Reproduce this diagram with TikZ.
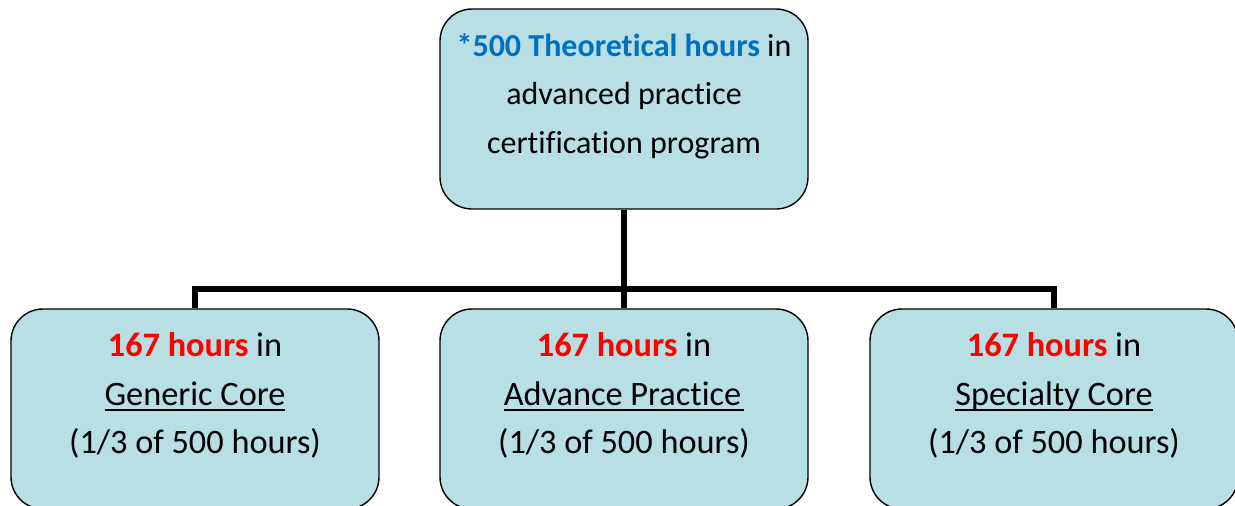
\documentclass[tikz,border=0pt]{standalone}
\usepackage{fontspec}
\setmainfont{Carlito}[Ligatures=NoCommon]
\definecolor{boxfill}{HTML}{B8DFE3}
\definecolor{hblue}{HTML}{0070C0}
\definecolor{hred}{HTML}{FF0000}
\newcommand{\ulword}[1]{\setbox0\hbox{#1}\rlap{\rule[-6pt]{\wd0}{2pt}}\box0}
\tikzset{
  hbox/.style={draw=black, line width=1.4pt, fill=boxfill, rounded corners=32pt,
    minimum width=368pt, minimum height=200pt, inner sep=0pt},
  htext/.style={anchor=north, inner sep=0pt, align=center,
    font=\fontsize{34.3}{48.5}\selectfont},
  toptext/.style={htext, font=\fontsize{32}{48.5}\selectfont},
  link/.style={line width=6pt, draw=black}
}
\begin{document}
\begin{tikzpicture}[x=1pt,y=-1pt]
\useasboundingbox (0,0) rectangle (1235,506);
\begin{scope}
\clip (0,0) rectangle (1235,506);
\node[hbox] (top) at (624,109) {};
\node[hbox] (left) at (195,409) {};
\node[hbox] (mid) at (624,409) {};
\node[hbox] (right) at (1054,409) {};
\coordinate (jl) at (195,289);
\coordinate (jm) at (624,289);
\coordinate (jr) at (1054,289);
\draw[link] (top.south) -- (jm);
\draw[link,line cap=rect] (jl) -- (jr);
\draw[link] (jl) -- (left.north);
\draw[link] (jm) -- (mid.north);
\draw[link] (jr) -- (right.north);
\node[toptext] (toptxt) at ([yshift=-25pt]top.north) {\textcolor{hblue}{\textbf{*500 Theoretical hours}} in\\ advanced practice\\ certification program};
\node[htext] (lefttxt) at ([yshift=-24pt]left.north) {\textcolor{hred}{\textbf{167 hours}} in\\ \ulword{Generic Core}\\ (1/3 of 500 hours)};
\node[htext] (midtxt) at ([yshift=-24pt]mid.north) {\textcolor{hred}{\textbf{167 hours}} in\\ \ulword{Advance Practice\kern3pt}\\ (1/3 of 500 hours)};
\node[htext] (righttxt) at ([yshift=-24pt]right.north) {\textcolor{hred}{\textbf{167 hours}} in\\ \ulword{Specialty Core}\\ (1/3 of 500 hours)};
\end{scope}
\end{tikzpicture}
\end{document}
